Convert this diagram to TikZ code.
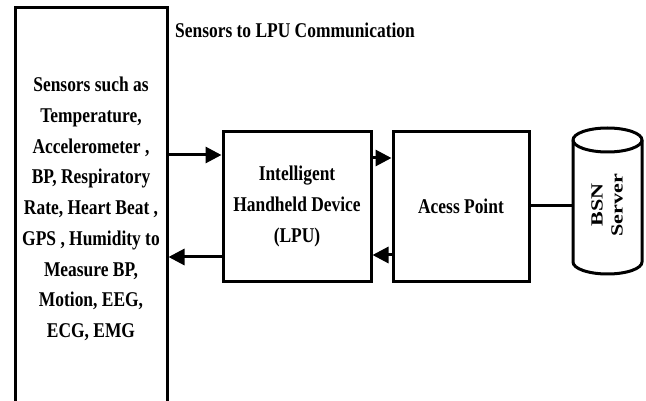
\documentclass[tikz,border=0pt]{standalone}
\usepackage{fontspec}
\setmainfont{Liberation Serif}[FakeStretch=0.83]
\newfontfamily\serverfont{Liberation Serif}[FakeStretch=1.3]
\usetikzlibrary{arrows.meta}
\tikzset{
  box/.style={draw, line width=3pt, rectangle, inner sep=0pt, align=center,
    font=\fontsize{21}{30.7}\selectfont\bfseries},
  arr/.style={line width=3pt, -{Triangle[length=16pt,width=16pt]}},
  link/.style={line width=3pt},
  lbl/.style={inner sep=0pt, font=\fontsize{21}{30.7}\selectfont\bfseries}
}
\begin{document}
\begin{tikzpicture}[x=1pt,y=-1pt]
\useasboundingbox (0,0) rectangle (646,401);
% nodes
\node[box, minimum width=152pt, minimum height=402pt] (sensors) at (91,209)
  {Sensors such as\\Temperature,\\Accelerometer ,\\BP, Respiratory\\Rate, Heart Beat ,\\GPS , Humidity to\\Measure BP,\\Motion, EEG,\\ECG, EMG};
\node[lbl] (title) at (295,30) {Sensors to LPU Communication};
\node[box, minimum width=148pt, minimum height=149pt] (lpu) at (297,206.5)
  {Intelligent\\Handheld Device\\(LPU)};
\node[box, minimum width=136pt, minimum height=149pt] (ap) at (461,206.5)
  {Acess Point};
% server cylinder
\draw[link, line join=round] (573,140) -- (573,262) arc (180:360:34.5pt and 12pt)
  -- (642,140) arc (0:180:34.5pt and 12pt) -- cycle;
\draw[link] (573,140) arc (180:360:34.5pt and 12pt);
\node[inner sep=0pt, rotate=90, align=center,
  font=\serverfont\fontsize{17}{20}\selectfont\bfseries] (server) at (607,205) {BSN\\Server};
\coordinate (srvL) at (573,206);
% connectors
\draw[arr] (sensors.east |- 0,155) -- (lpu.west |- 0,155);
\draw[arr] (lpu.west |- 0,257) -- (sensors.east |- 0,257);
\draw[arr] (lpu.east |- 0,158) -- (ap.west |- 0,158);
\draw[arr] (ap.west |- 0,255) -- (lpu.east |- 0,255);
\draw[link] (ap.east |- srvL) -- (srvL);
\end{tikzpicture}
\end{document}
